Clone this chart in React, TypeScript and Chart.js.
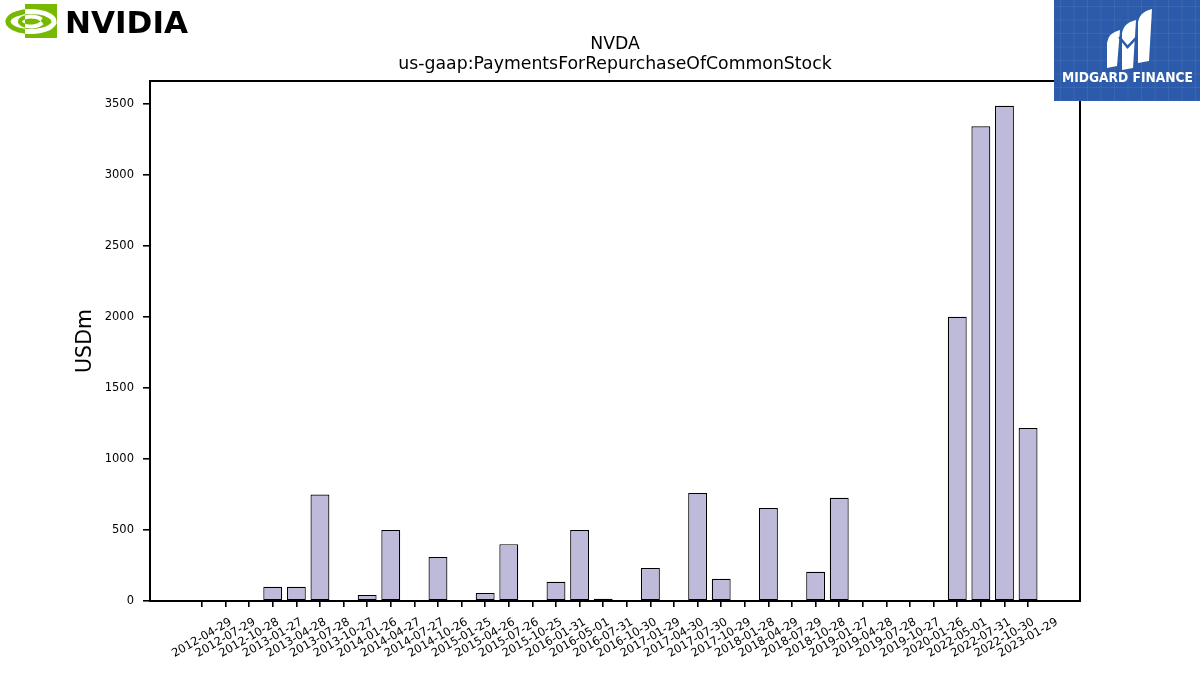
import React, { useEffect, useRef } from "react";
import { Chart, registerables } from "chart.js";

Chart.register(...registerables);

const LABELS = [
  "2012-04-29", "2012-07-29", "2012-10-28", "2013-01-27", "2013-04-28", "2013-07-28",
  "2013-10-27", "2014-01-26", "2014-04-27", "2014-07-27", "2014-10-26", "2015-01-25",
  "2015-04-26", "2015-07-26", "2015-10-25", "2016-01-31", "2016-05-01", "2016-07-31",
  "2016-10-30", "2017-01-29", "2017-04-30", "2017-07-30", "2017-10-29", "2018-01-28",
  "2018-04-29", "2018-07-29", "2018-10-28", "2019-01-27", "2019-04-28", "2019-07-28",
  "2019-10-27", "2020-01-26", "2022-05-01", "2022-07-31", "2022-10-30", "2023-01-29",
];

const VALUES = [
  0, 0, 0, 100, 100, 750,
  0, 42, 500, 0, 310, 0,
  57, 400, 0, 135, 500, 15,
  0, 233, 0, 761, 156, 0,
  655, 0, 205, 726, 0, 0,
  0, 0, 2000, 3342, 3485, 1218,
];

const Y_TICKS = [0, 500, 1000, 1500, 2000, 2500, 3000, 3500];
const TITLE_LINES = ["NVDA", "us-gaap:PaymentsForRepurchaseOfCommonStock"];
const Y_LABEL = "USDm";
const BRAND_LEFT = "NVIDIA";
const BRAND_RIGHT = "MIDGARD FINANCE";

const FONT = "'DejaVu Sans', sans-serif";

export default function App() {
  const ref = useRef<HTMLCanvasElement>(null);

  useEffect(() => {
    document.body.style.margin = "0";
    const canvas = ref.current;
    if (!canvas) return;

    const decor = {
      id: "decor",
      afterDraw(chart: any) {
        const ctx: CanvasRenderingContext2D = chart.ctx;
        const area = chart.chartArea;
        const xs = chart.scales.x;
        ctx.save();

        // top & right spines
        ctx.strokeStyle = "#000";
        ctx.lineWidth = 2;
        ctx.lineCap = "square";
        ctx.beginPath();
        ctx.moveTo(area.left, area.top);
        ctx.lineTo(area.right, area.top);
        ctx.lineTo(area.right, area.bottom);
        ctx.stroke();

        // rotated x tick labels (centered on ticks)
        ctx.fillStyle = "#000";
        ctx.font = `11.5px ${FONT}`;
        ctx.textAlign = "center";
        ctx.textBaseline = "middle";
        LABELS.forEach((lab, i) => {
          const x = xs.getPixelForValue(i);
          ctx.save();
          ctx.translate(x, 638);
          ctx.rotate(-Math.PI / 6);
          ctx.fillText(lab, 0, 0);
          ctx.restore();
        });

        // y axis label
        ctx.save();
        ctx.translate(86, (area.top + area.bottom) / 2);
        ctx.rotate(-Math.PI / 2);
        ctx.font = `20.5px ${FONT}`;
        ctx.textBaseline = "middle";
        ctx.fillText(Y_LABEL, 0, 0);
        ctx.restore();

        // title
        ctx.font = `17.3px ${FONT}`;
        ctx.textBaseline = "alphabetic";
        const cx = (area.left + area.right) / 2;
        ctx.fillText(TITLE_LINES[0], cx, 49);
        ctx.fillText(TITLE_LINES[1], cx, 68.5);

        // NVIDIA logo
        const green = "#76b900";
        ctx.fillStyle = green;
        ctx.fillRect(25, 4, 32, 34);
        const eye = (color: string, left: boolean) => {
          ctx.save();
          ctx.beginPath();
          if (left) ctx.rect(0, 0, 25, 45);
          else ctx.rect(25, 4, 32, 34);
          ctx.clip();
          ctx.strokeStyle = color;
          ctx.lineWidth = 5;
          ctx.beginPath();
          ctx.ellipse(31, 21.5, 23, 10, 0, 0.35, Math.PI * 2);
          ctx.stroke();
          ctx.lineWidth = 4;
          ctx.beginPath();
          ctx.ellipse(31, 21.5, 11, 5, 0, 0.5, Math.PI * 1.8);
          ctx.stroke();
          ctx.restore();
        };
        eye(green, true);
        eye("#fff", false);
        ctx.fillStyle = "#000";
        ctx.font = `bold 31px ${FONT}`;
        ctx.textAlign = "left";
        const nw = ctx.measureText(BRAND_LEFT).width;
        ctx.save();
        ctx.translate(65, 33);
        ctx.scale(123 / nw, 1);
        ctx.fillText(BRAND_LEFT, 0, 0);
        ctx.restore();

        // MIDGARD FINANCE box
        ctx.fillStyle = "#2b5baa";
        ctx.fillRect(1054, 0, 146, 101);
        ctx.strokeStyle = "rgba(255,255,255,0.07)";
        ctx.lineWidth = 1;
        for (let gx = 1060; gx < 1200; gx += 13.5) {
          ctx.beginPath();
          ctx.moveTo(gx + 0.5, 0);
          ctx.lineTo(gx + 0.5, 101);
          ctx.stroke();
        }
        for (let gy = 6; gy < 101; gy += 13.5) {
          ctx.beginPath();
          ctx.moveTo(1054, gy + 0.5);
          ctx.lineTo(1200, gy + 0.5);
          ctx.stroke();
        }
        ctx.fillStyle = "#fff";
        const leaf = (x: number, yTop: number, yBot: number, w: number, s: number) => {
          ctx.beginPath();
          ctx.moveTo(x, yBot);
          ctx.lineTo(x + w, yBot - 2);
          ctx.lineTo(x + w + s, yTop);
          ctx.quadraticCurveTo(x + s * 0.3, yTop + 3, x, yTop + w * 1.3);
          ctx.closePath();
          ctx.fill();
        };
        leaf(1107, 30, 68, 10, 3);
        leaf(1122, 20, 70, 11, 3);
        leaf(1138, 9, 63, 11, 3);
        ctx.strokeStyle = "#2b5baa";
        ctx.lineWidth = 2.5;
        ctx.beginPath();
        ctx.moveTo(1120, 38);
        ctx.lineTo(1127.5, 47);
        ctx.lineTo(1136, 38);
        ctx.stroke();

        ctx.fillStyle = "#fff";
        ctx.font = `bold 14px ${FONT}`;
        ctx.textBaseline = "alphabetic";
        const mw = ctx.measureText(BRAND_RIGHT).width;
        ctx.save();
        ctx.translate(1062, 82);
        ctx.scale(131 / mw, 1);
        ctx.fillText(BRAND_RIGHT, 0, 0);
        ctx.restore();

        ctx.restore();
      },
    };

    const chart = new Chart(canvas, {
      type: "bar",
      data: {
        datasets: [
          {
            data: VALUES.map((v, i) => ({ x: i, y: v })),
            backgroundColor: "#bebada",
            borderColor: "#000",
            borderWidth: 1.2,
            borderSkipped: false,
            barPercentage: 0.8,
            categoryPercentage: 1,
          } as any,
        ],
      },
      options: {
        animation: false,
        responsive: false,
        devicePixelRatio: 1,
        layout: { padding: { left: 0, right: 120, top: 81, bottom: 0 } },
        plugins: {
          legend: { display: false },
          tooltip: { enabled: false },
          title: { display: false },
        },
        scales: {
          x: {
            type: "linear",
            min: -2.2,
            max: 37.2,
            offset: false,
            afterBuildTicks: (s: any) => {
              s.ticks = LABELS.map((_, i) => ({ value: i }));
            },
            afterFit: (s: any) => {
              s.height = 74;
            },
            ticks: {
              autoSkip: false,
              maxRotation: 0,
              minRotation: 0,
              callback: () => "",
            },
            grid: {
              offset: false,
              drawOnChartArea: false,
              drawTicks: true,
              tickLength: 6,
              color: "#000",
              lineWidth: 1.6,
            },
            border: { display: true, color: "#000", width: 2 },
          },
          y: {
            type: "linear",
            min: 0,
            max: 3660,
            afterBuildTicks: (s: any) => {
              s.ticks = Y_TICKS.map((v) => ({ value: v }));
            },
            afterFit: (s: any) => {
              s.width = 150;
            },
            ticks: {
              color: "#000",
              padding: 9,
              font: { family: "DejaVu Sans", size: 11.5 },
              callback: (v: any) => String(v),
            },
            grid: {
              offset: false,
              drawOnChartArea: false,
              drawTicks: true,
              tickLength: 7,
              color: "#000",
              lineWidth: 1.6,
            },
            border: { display: true, color: "#000", width: 2 },
          },
        },
      },
      plugins: [decor],
    });

    return () => chart.destroy();
  }, []);

  return (
    <canvas
      ref={ref}
      width={1200}
      height={675}
      style={{ display: "block", width: 1200, height: 675 }}
    />
  );
}
